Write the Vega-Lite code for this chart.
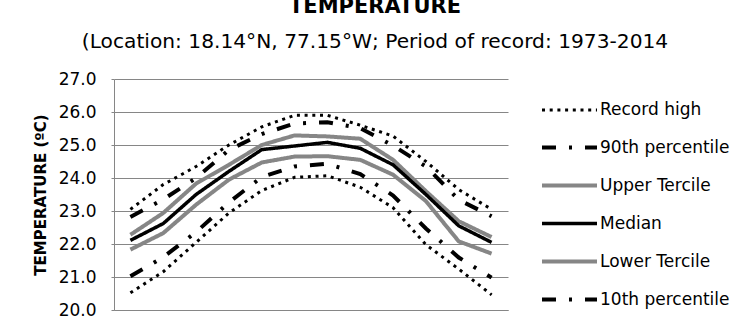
{
  "$schema": "https://vega.github.io/schema/vega-lite/v6.json",
  "width": 394,
  "height": 231,
  "autosize": {"type": "none"},
  "padding": {"left": 114, "top": 79, "right": 244, "bottom": 11},
  "background": "white",
  "title": {
    "text": "TEMPERATURE",
    "subtitle": "(Location: 18.14°N, 77.15°W; Period of record: 1973-2014",
    "anchor": "middle",
    "dx": 64,
    "font": "DejaVu Sans",
    "fontSize": 21,
    "fontWeight": "bold",
    "color": "black",
    "subtitleFont": "DejaVu Sans",
    "subtitleFontSize": 20.2,
    "subtitleColor": "black",
    "subtitlePadding": 15,
    "offset": 18
  },
  "config": {
    "view": {"stroke": null},
    "axis": {
      "labelFont": "DejaVu Sans",
      "titleFont": "DejaVu Sans",
      "labelColor": "black",
      "titleColor": "black"
    }
  },
  "data": {
    "values": [
      {"month": "Jan", "series": "Record high", "value": 23.05},
      {"month": "Feb", "series": "Record high", "value": 23.8},
      {"month": "Mar", "series": "Record high", "value": 24.35},
      {"month": "Apr", "series": "Record high", "value": 25.0},
      {"month": "May", "series": "Record high", "value": 25.55},
      {"month": "Jun", "series": "Record high", "value": 25.9},
      {"month": "Jul", "series": "Record high", "value": 25.9},
      {"month": "Aug", "series": "Record high", "value": 25.6},
      {"month": "Sep", "series": "Record high", "value": 25.27},
      {"month": "Oct", "series": "Record high", "value": 24.5},
      {"month": "Nov", "series": "Record high", "value": 23.65},
      {"month": "Dec", "series": "Record high", "value": 23.05},
      {"month": "Jan", "series": "90th percentile", "value": 22.82},
      {"month": "Feb", "series": "90th percentile", "value": 23.35},
      {"month": "Mar", "series": "90th percentile", "value": 24.0},
      {"month": "Apr", "series": "90th percentile", "value": 24.85},
      {"month": "May", "series": "90th percentile", "value": 25.33},
      {"month": "Jun", "series": "90th percentile", "value": 25.65},
      {"month": "Jul", "series": "90th percentile", "value": 25.69},
      {"month": "Aug", "series": "90th percentile", "value": 25.51},
      {"month": "Sep", "series": "90th percentile", "value": 24.98},
      {"month": "Oct", "series": "90th percentile", "value": 24.35},
      {"month": "Nov", "series": "90th percentile", "value": 23.34},
      {"month": "Dec", "series": "90th percentile", "value": 22.84},
      {"month": "Jan", "series": "Upper Tercile", "value": 22.28},
      {"month": "Feb", "series": "Upper Tercile", "value": 22.94},
      {"month": "Mar", "series": "Upper Tercile", "value": 23.83},
      {"month": "Apr", "series": "Upper Tercile", "value": 24.4},
      {"month": "May", "series": "Upper Tercile", "value": 25.0},
      {"month": "Jun", "series": "Upper Tercile", "value": 25.29},
      {"month": "Jul", "series": "Upper Tercile", "value": 25.26},
      {"month": "Aug", "series": "Upper Tercile", "value": 25.19},
      {"month": "Sep", "series": "Upper Tercile", "value": 24.55},
      {"month": "Oct", "series": "Upper Tercile", "value": 23.6},
      {"month": "Nov", "series": "Upper Tercile", "value": 22.69},
      {"month": "Dec", "series": "Upper Tercile", "value": 22.21},
      {"month": "Jan", "series": "Median", "value": 22.11},
      {"month": "Feb", "series": "Median", "value": 22.62},
      {"month": "Mar", "series": "Median", "value": 23.5},
      {"month": "Apr", "series": "Median", "value": 24.2},
      {"month": "May", "series": "Median", "value": 24.86},
      {"month": "Jun", "series": "Median", "value": 24.97},
      {"month": "Jul", "series": "Median", "value": 25.08},
      {"month": "Aug", "series": "Median", "value": 24.9},
      {"month": "Sep", "series": "Median", "value": 24.4},
      {"month": "Oct", "series": "Median", "value": 23.5},
      {"month": "Nov", "series": "Median", "value": 22.55},
      {"month": "Dec", "series": "Median", "value": 22.05},
      {"month": "Jan", "series": "Lower Tercile", "value": 21.83},
      {"month": "Feb", "series": "Lower Tercile", "value": 22.33},
      {"month": "Mar", "series": "Lower Tercile", "value": 23.19},
      {"month": "Apr", "series": "Lower Tercile", "value": 23.95},
      {"month": "May", "series": "Lower Tercile", "value": 24.47},
      {"month": "Jun", "series": "Lower Tercile", "value": 24.65},
      {"month": "Jul", "series": "Lower Tercile", "value": 24.66},
      {"month": "Aug", "series": "Lower Tercile", "value": 24.55},
      {"month": "Sep", "series": "Lower Tercile", "value": 24.1},
      {"month": "Oct", "series": "Lower Tercile", "value": 23.3},
      {"month": "Nov", "series": "Lower Tercile", "value": 22.08},
      {"month": "Dec", "series": "Lower Tercile", "value": 21.71},
      {"month": "Jan", "series": "10th percentile", "value": 21.02},
      {"month": "Feb", "series": "10th percentile", "value": 21.6},
      {"month": "Mar", "series": "10th percentile", "value": 22.36},
      {"month": "Apr", "series": "10th percentile", "value": 23.26},
      {"month": "May", "series": "10th percentile", "value": 24.03},
      {"month": "Jun", "series": "10th percentile", "value": 24.35},
      {"month": "Jul", "series": "10th percentile", "value": 24.43},
      {"month": "Aug", "series": "10th percentile", "value": 24.12},
      {"month": "Sep", "series": "10th percentile", "value": 23.47},
      {"month": "Oct", "series": "10th percentile", "value": 22.47},
      {"month": "Nov", "series": "10th percentile", "value": 21.59},
      {"month": "Dec", "series": "10th percentile", "value": 20.98},
      {"month": "Jan", "series": "Record low", "value": 20.52},
      {"month": "Feb", "series": "Record low", "value": 21.16},
      {"month": "Mar", "series": "Record low", "value": 22.05},
      {"month": "Apr", "series": "Record low", "value": 22.94},
      {"month": "May", "series": "Record low", "value": 23.62},
      {"month": "Jun", "series": "Record low", "value": 24.02},
      {"month": "Jul", "series": "Record low", "value": 24.07},
      {"month": "Aug", "series": "Record low", "value": 23.72},
      {"month": "Sep", "series": "Record low", "value": 23.1},
      {"month": "Oct", "series": "Record low", "value": 21.98},
      {"month": "Nov", "series": "Record low", "value": 21.24},
      {"month": "Dec", "series": "Record low", "value": 20.46}
    ]
  },
  "mark": {"type": "line", "strokeCap": "butt", "strokeJoin": "miter"},
  "encoding": {
    "x": {
      "field": "month",
      "type": "ordinal",
      "sort": ["Jan", "Feb", "Mar", "Apr", "May", "Jun", "Jul", "Aug", "Sep", "Oct", "Nov", "Dec"],
      "scale": {"type": "point", "padding": 0.5},
      "axis": {
        "title": null,
        "labels": false,
        "domainColor": "#868686",
        "ticks": false,
        "grid": false
      }
    },
    "y": {
      "field": "value",
      "type": "quantitative",
      "scale": {"domain": [20, 27], "nice": false, "zero": false},
      "axis": {
        "title": "TEMPERATURE (ºC)",
        "titleFontSize": 15,
        "titleFontWeight": "bold",
        "titlePadding": 10,
        "values": [20, 21, 22, 23, 24, 25, 26, 27],
        "format": ".1f",
        "labelFontSize": 17,
        "labelPadding": 15,
        "tickSize": 3,
        "tickColor": "#868686",
        "domainColor": "#868686",
        "gridColor": "#868686",
        "gridOpacity": 1,
        "grid": true
      }
    },
    "color": {
      "field": "series",
      "type": "nominal",
      "sort": ["Record high", "90th percentile", "Upper Tercile", "Median", "Lower Tercile", "10th percentile", "Record low"],
      "scale": {
        "domain": ["Record high", "90th percentile", "Upper Tercile", "Median", "Lower Tercile", "10th percentile", "Record low"],
        "range": ["#000000", "#000000", "#868686", "#000000", "#868686", "#000000", "#000000"]
      },
      "legend": {
        "title": null,
        "orient": "none",
        "legendX": 426,
        "legendY": 2,
        "symbolType": "stroke",
        "symbolSize": 3025,
        "labelFont": "DejaVu Sans",
        "labelFontSize": 17,
        "labelColor": "black",
        "labelOffset": 1,
        "rowPadding": -17.4,
        "padding": 0
      }
    },
    "strokeDash": {
      "field": "series",
      "type": "nominal",
      "sort": ["Record high", "90th percentile", "Upper Tercile", "Median", "Lower Tercile", "10th percentile", "Record low"],
      "scale": {
        "domain": ["Record high", "90th percentile", "Upper Tercile", "Median", "Lower Tercile", "10th percentile", "Record low"],
        "range": [[3, 4.7], [14, 13, 3, 13], [1, 0], [1, 0], [1, 0], [14, 13, 3, 13], [3, 4.7]]
      }
    },
    "strokeWidth": {
      "field": "series",
      "type": "nominal",
      "sort": ["Record high", "90th percentile", "Upper Tercile", "Median", "Lower Tercile", "10th percentile", "Record low"],
      "scale": {
        "type": "ordinal",
        "domain": ["Record high", "90th percentile", "Upper Tercile", "Median", "Lower Tercile", "10th percentile", "Record low"],
        "range": [3, 4, 4, 3.5, 4, 4, 3]
      }
    }
  }
}
